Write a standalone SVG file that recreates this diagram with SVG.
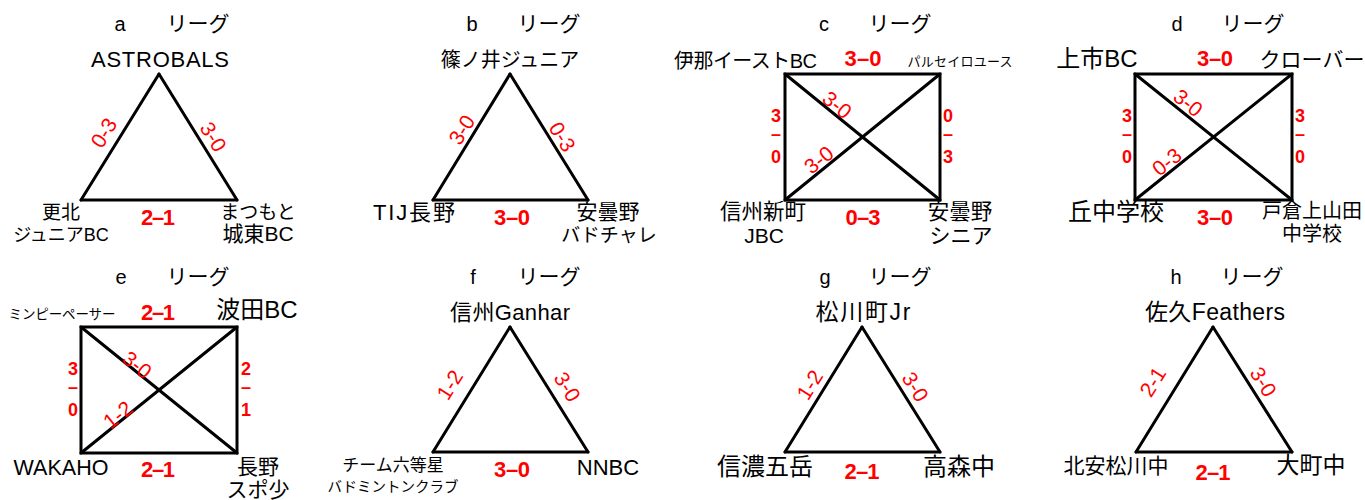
<svg xmlns="http://www.w3.org/2000/svg" width="1365" height="500" viewBox="0 0 1365 500">
<style>
text{font-family:'Liberation Sans','Noto Sans CJK JP',sans-serif;}
.ti{font-size:20px;fill:#000;text-anchor:middle}
.tj{font-size:21px;fill:#000;text-anchor:middle}
.n{fill:#000;text-anchor:middle}
.s{fill:#f00;font-weight:bold;font-size:22px;text-anchor:middle}
.r{fill:#f00;font-size:21px;text-anchor:middle}
.v{fill:#f00;font-weight:bold;font-size:18px;text-anchor:middle}
.e{stroke:#000;stroke-width:3;fill:none;stroke-linecap:round}
</style>
<rect width="1365" height="500" fill="#fff"/>

<!-- League a -->
<g id="league-a">
<text class="ti" x="120" y="31">a</text><text class="tj" x="198" y="31">リーグ</text>
<g id="a-astrobals"><text class="n" x="160" y="67" font-size="22" textLength="138">ASTROBALS</text></g>
<g id="a-koshoku"><text class="n" x="61" y="219" font-size="19">更北</text><text class="n" x="61" y="241" font-size="18">ジュニアBC</text></g>
<g id="a-matsumoto"><text class="n" x="258" y="219" font-size="19">まつもと</text><text class="n" x="258" y="241" font-size="21">城東BC</text></g>
<g id="a-connectors">
<line class="e" x1="159" y1="74" x2="81" y2="200"/><line class="e" x1="159" y1="74" x2="237" y2="200"/><line class="e" x1="81" y1="200" x2="237" y2="200"/>
<text class="r" transform="translate(104 133) rotate(-58)" y="7">0-3</text>
<text class="r" transform="translate(213 137) rotate(58)" y="7">3-0</text>
<text class="s" x="158" y="225" textLength="34">2–1</text>
</g>
</g>

<!-- League b -->
<g id="league-b">
<text class="ti" x="472" y="31">b</text><text class="tj" x="549" y="31">リーグ</text>
<g id="b-shinonoi"><text class="n" x="510" y="67" font-size="20">篠ノ井ジュニア</text></g>
<g id="b-tij"><text class="n" x="414" y="220" font-size="22" textLength="82">TIJ長野</text></g>
<g id="b-azumino"><text class="n" x="608" y="219" font-size="21">安曇野</text><text class="n" x="609" y="242" font-size="19">バドチャレ</text></g>
<g id="b-connectors">
<line class="e" x1="510" y1="74" x2="433" y2="200"/><line class="e" x1="510" y1="74" x2="588" y2="200"/><line class="e" x1="433" y1="200" x2="588" y2="200"/>
<text class="r" transform="translate(462 130) rotate(-58)" y="7">3-0</text>
<text class="r" transform="translate(562 137) rotate(58)" y="7">0-3</text>
<text class="s" x="512" y="225" textLength="36">3–0</text>
</g>
</g>

<!-- League c -->
<g id="league-c">
<text class="ti" x="824" y="31">c</text><text class="tj" x="900" y="31">リーグ</text>
<g id="c-inaeast"><text class="n" x="745.5" y="68" font-size="20" textLength="143">伊那イーストBC</text></g>
<g id="c-parceiro"><text class="n" x="960" y="66" font-size="13" textLength="105">パルセイロユース</text></g>
<g id="c-shinshushinmachi"><text class="n" x="763" y="219" font-size="21.5">信州新町</text><text class="n" x="764" y="243" font-size="21">JBC</text></g>
<g id="c-azumino"><text class="n" x="960" y="219" font-size="21.5">安曇野</text><text class="n" x="961" y="243" font-size="21">シニア</text></g>
<g id="c-connectors">
<rect class="e" x="785" y="74" width="155" height="126" stroke-linecap="butt"/>
<line class="e" x1="785" y1="74" x2="940" y2="200"/><line class="e" x1="940" y1="74" x2="785" y2="200"/>
<text class="s" x="863" y="66" textLength="37">3–0</text>
<text class="s" x="863" y="225" textLength="35">0–3</text>
<text class="v" x="776" y="122">3</text><text class="v" x="776" y="140">–</text><text class="v" x="776" y="163">0</text>
<text class="v" x="948" y="122">0</text><text class="v" x="948" y="140">–</text><text class="v" x="948" y="163">3</text>
<text class="r" transform="translate(837 105) rotate(39)" y="7">3-0</text>
<text class="r" transform="translate(819 160) rotate(-39)" y="7">3-0</text>
</g>
</g>

<!-- League d -->
<g id="league-d">
<text class="ti" x="1177" y="31">d</text><text class="tj" x="1253" y="31">リーグ</text>
<g id="d-kamiichi"><text class="n" x="1097" y="67" font-size="24">上市BC</text></g>
<g id="d-clover"><text class="n" x="1312" y="67" font-size="21">クローバー</text></g>
<g id="d-oka"><text class="n" x="1116" y="220" font-size="24">丘中学校</text></g>
<g id="d-togura"><text class="n" x="1312" y="218" font-size="20">戸倉上山田</text><text class="n" x="1312" y="241" font-size="20">中学校</text></g>
<g id="d-connectors">
<rect class="e" x="1135" y="74" width="157" height="126" stroke-linecap="butt"/>
<line class="e" x1="1135" y1="74" x2="1292" y2="200"/><line class="e" x1="1292" y1="74" x2="1135" y2="200"/>
<text class="s" x="1215" y="66" textLength="36">3–0</text>
<text class="s" x="1215" y="225" textLength="36">3–0</text>
<text class="v" x="1127" y="122">3</text><text class="v" x="1127" y="140">–</text><text class="v" x="1127" y="163">0</text>
<text class="v" x="1300" y="122">3</text><text class="v" x="1300" y="140">–</text><text class="v" x="1300" y="163">0</text>
<text class="r" transform="translate(1188 103) rotate(39)" y="7">3-0</text>
<text class="r" transform="translate(1167 162) rotate(-39)" y="7">0-3</text>
</g>
</g>

<!-- League e -->
<g id="league-e">
<text class="ti" x="121" y="284">e</text><text class="tj" x="198" y="284">リーグ</text>
<g id="e-minpeepeesaa"><text class="n" x="62" y="319" font-size="13.5" textLength="107">ミンピーペーサー</text></g>
<g id="e-hata"><text class="n" x="257" y="318" font-size="24">波田BC</text></g>
<g id="e-wakaho"><text class="n" x="61" y="475" font-size="21.5">WAKAHO</text></g>
<g id="e-nagano"><text class="n" x="258" y="474" font-size="21">長野</text><text class="n" x="258" y="497" font-size="21">スポ少</text></g>
<g id="e-connectors">
<rect class="e" x="81" y="327" width="156" height="126" stroke-linecap="butt"/>
<line class="e" x1="81" y1="327" x2="237" y2="453"/><line class="e" x1="237" y1="327" x2="81" y2="453"/>
<text class="s" x="158" y="320" textLength="34">2–1</text>
<text class="s" x="158" y="477" textLength="34">2–1</text>
<text class="v" x="73" y="375">3</text><text class="v" x="73" y="393">–</text><text class="v" x="73" y="416">0</text>
<text class="v" x="246" y="375">2</text><text class="v" x="246" y="393">–</text><text class="v" x="246" y="416">1</text>
<text class="r" transform="translate(137 365) rotate(39)" y="7">3-0</text>
<text class="r" transform="translate(118 415) rotate(-39)" y="7">1-2</text>
</g>
</g>

<!-- League f -->
<g id="league-f">
<text class="ti" x="473" y="284">f</text><text class="tj" x="549" y="284">リーグ</text>
<g id="f-ganhar"><text class="n" x="510" y="320" font-size="22" textLength="120">信州Ganhar</text></g>
<g id="f-rokutousei"><text class="n" x="393" y="471" font-size="17">チーム六等星</text><text class="n" x="393" y="492" font-size="14.5">バドミントンクラブ</text></g>
<g id="f-nnbc"><text class="n" x="608" y="475" font-size="22">NNBC</text></g>
<g id="f-connectors">
<line class="e" x1="510" y1="327" x2="433" y2="452"/><line class="e" x1="510" y1="327" x2="588" y2="452"/><line class="e" x1="433" y1="452" x2="588" y2="452"/>
<text class="r" transform="translate(450 385) rotate(-58)" y="7">1-2</text>
<text class="r" transform="translate(567 387) rotate(58)" y="7">3-0</text>
<text class="s" x="512" y="477" textLength="36">3–0</text>
</g>
</g>

<!-- League g -->
<g id="league-g">
<text class="ti" x="825" y="284">g</text><text class="tj" x="900" y="284">リーグ</text>
<g id="g-matsukawa"><text class="n" x="863" y="320" font-size="23" textLength="95">松川町Jr</text></g>
<g id="g-shinanogogaku"><text class="n" x="765" y="475" font-size="24">信濃五岳</text></g>
<g id="g-takamori"><text class="n" x="959" y="475" font-size="24">高森中</text></g>
<g id="g-connectors">
<line class="e" x1="862" y1="327" x2="785" y2="452"/><line class="e" x1="862" y1="327" x2="940" y2="452"/><line class="e" x1="785" y1="452" x2="940" y2="452"/>
<text class="r" transform="translate(810 385) rotate(-58)" y="7">1-2</text>
<text class="r" transform="translate(915 387) rotate(58)" y="7">3-0</text>
<text class="s" x="862" y="479" font-size="23" textLength="35">2–1</text>
</g>
</g>

<!-- League h -->
<g id="league-h">
<text class="ti" x="1176" y="284">h</text><text class="tj" x="1252" y="284">リーグ</text>
<g id="h-saku"><text class="n" x="1215" y="320" font-size="23" textLength="140">佐久Feathers</text></g>
<g id="h-kitaazumi"><text class="n" x="1116" y="473" font-size="21">北安松川中</text></g>
<g id="h-omachi"><text class="n" x="1311" y="473" font-size="23">大町中</text></g>
<g id="h-connectors">
<line class="e" x1="1213" y1="327" x2="1136" y2="452"/><line class="e" x1="1213" y1="327" x2="1292" y2="452"/><line class="e" x1="1136" y1="452" x2="1292" y2="452"/>
<text class="r" transform="translate(1153 382) rotate(-58)" y="7">2-1</text>
<text class="r" transform="translate(1263 382) rotate(58)" y="7">3-0</text>
<text class="s" x="1213" y="480" font-size="23" textLength="35">2–1</text>
</g>
</g>
</svg>
